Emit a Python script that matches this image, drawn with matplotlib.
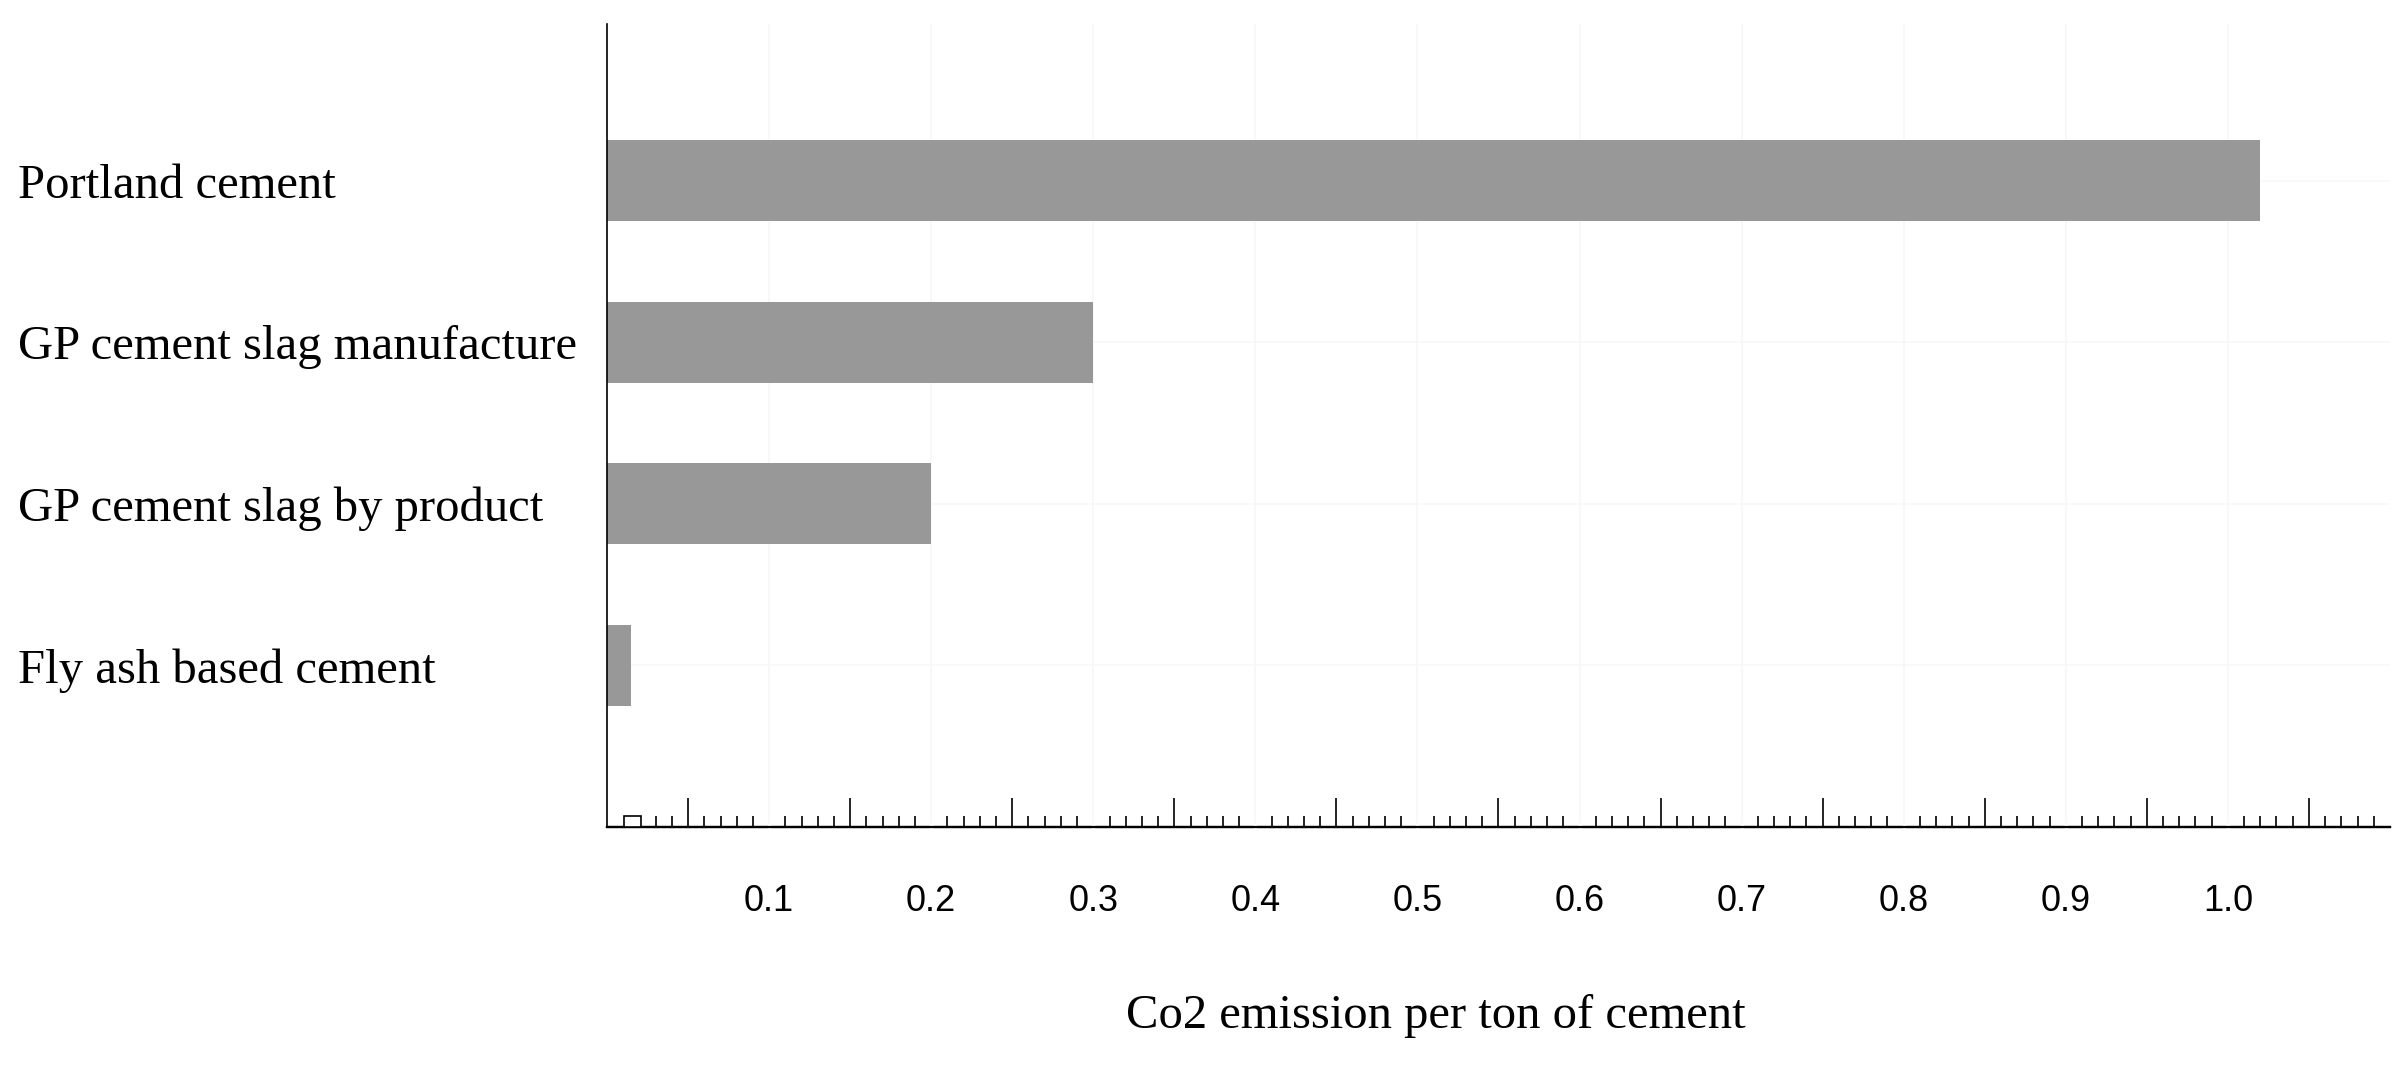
import numpy as np
import matplotlib
matplotlib.use("Agg")
import matplotlib.pyplot as plt
import matplotlib.transforms as mtransforms
from matplotlib.patches import Rectangle

# Datos
categorias = ["Portland cement", "GP cement slag manufacture",
              "GP cement slag by product", "Fly ash based cement"]
emision = [1.02, 0.30, 0.20, 0.015]
ticks_x = [0.1, 0.2, 0.3, 0.4, 0.5, 0.6, 0.7, 0.8, 0.9, 1.0]
etiquetas_x = ["0.1", "0.2", "0.3", "0.4", "0.5", "0.6", "0.7", "0.8", "0.9", "1.0"]

serif = ["Liberation Serif", "DejaVu Serif"]
narrow = ["Liberation Sans Narrow", "Liberation Sans", "DejaVu Sans"]

fig = plt.figure(figsize=(24.08, 10.77), dpi=100)
ax = fig.add_axes([0.2521, 0.2321, 0.7404, 0.7456])

# la primera categoria va arriba
pos = np.arange(len(categorias), 0, -1)
ax.barh(pos, emision, height=0.5, color="#989898", zorder=2)

ax.set_xlim(0, 1.1)
ax.set_ylim(0, 4.97)

# rejilla muy tenue
ax.set_xticks(np.arange(0.1, 1.11, 0.1), minor=False)
ax.grid(axis="x", color="#f7f7f7", linewidth=1.2, zorder=0)
for p in pos:
    ax.axhline(p, color="#f8f8f8", linewidth=1.2, zorder=0)

# bordes
for lado in ["top", "right"]:
    ax.spines[lado].set_visible(False)
ax.spines["left"].set_linewidth(1.2)
ax.spines["bottom"].set_linewidth(1.6)

# eje x: marcas principales blancas (hueco en la linea), menores cortas
ax.set_xticks(ticks_x)
ax.set_xticklabels(etiquetas_x, family=narrow, fontsize=26)
ax.tick_params(axis="x", which="major", direction="inout", length=6,
               width=2.5, color="white", pad=38)
menores = [v / 100 for v in range(3, 110) if v % 5 != 0]
ax.set_xticks(menores, minor=True)
ax.tick_params(axis="x", which="minor", direction="in", length=8,
               width=1.2, color="black")

# marcas largas cada 0.05
sec = ax.secondary_xaxis(0)
sec.set_xticks([v / 100 for v in range(5, 110, 10)])
sec.set_xticklabels([])
sec.tick_params(direction="in", length=21, width=1.2, color="black")
sec.spines["bottom"].set_linewidth(1.6)

# pequeño rectangulo junto al origen
trans = mtransforms.blended_transform_factory(ax.transData, ax.transAxes)
ax.add_patch(Rectangle((0.0105, 0.0), 0.0105, 0.014, transform=trans,
                       facecolor="white", edgecolor="black", linewidth=1.2,
                       zorder=3, clip_on=False))

# eje y: etiquetas alineadas a la izquierda
ax.set_yticks(pos)
ax.set_yticklabels(categorias, family=serif, fontsize=35, ha="left")
ax.tick_params(axis="y", length=0, pad=424)

ax.set_xlabel("Co2 emission per ton of cement", family=serif, fontsize=35,
              va="center")
ax.xaxis.set_label_coords(0.465, -0.235)

plt.savefig("out.png", dpi=100)
plt.close()
